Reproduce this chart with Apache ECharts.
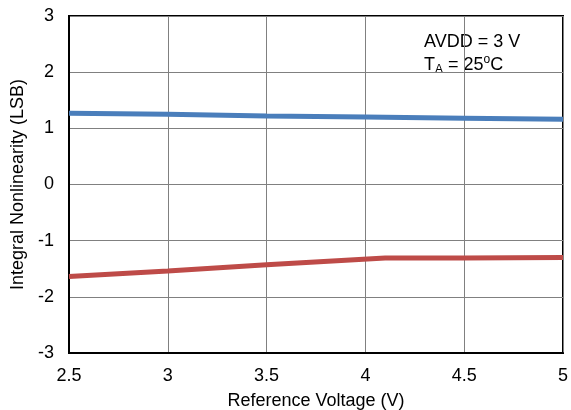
<!DOCTYPE html>
<html><head><meta charset="utf-8">
<script src="https://cdn.jsdelivr.net/npm/echarts@6/dist/echarts.min.js"></script>
<style>html,body{margin:0;padding:0;background:#fff}#c{width:571px;height:410px}</style>
</head><body><div id="c"></div>
<script>
var blueX = [2.5, 3, 3.5, 4, 4.5, 5];
var blueY = [1.27, 1.25, 1.22, 1.20, 1.18, 1.16];
var redX = [2.5, 3, 3.5, 4.1, 4.5, 5];
var redY = [-1.64, -1.54, -1.43, -1.31, -1.31, -1.30];
var xTicks = [2.5, 3, 3.5, 4, 4.5, 5];
var yTicks = [-3, -2, -1, 0, 1, 2, 3];
function pairs(xs, ys){ return xs.map(function(x,i){ return [x, ys[i]]; }); }
var chart = echarts.init(document.getElementById('c'));
var font = 'Liberation Sans, Arial, sans-serif';
chart.setOption({
  animation: false,
  grid: {left: 69, right: 8, top: 16, bottom: 57, show: true, borderColor: '#000', borderWidth: 2,
    outerBoundsMode: 'none', containLabel: false},
  xAxis: {
    type: 'value', min: 2.5, max: 5, interval: 0.5,
    name: 'Reference Voltage (V)', nameLocation: 'middle', nameGap: 39,
    nameTextStyle: {fontFamily: font, fontSize: 18, color: '#000'},
    axisLine: {show: true, onZero: false, lineStyle: {color: '#000', width: 2}},
    axisTick: {show: false},
    axisLabel: {fontFamily: font, fontSize: 18, color: '#000', margin: 14,
      formatter: function(v){ return xTicks.indexOf(v) >= 0 ? String(v) : ''; }},
    splitLine: {show: true, lineStyle: {color: '#808080', width: 1}}
  },
  yAxis: {
    type: 'value', min: -3, max: 3, interval: 1,
    name: 'Integral Nonlinearity (LSB)', nameLocation: 'middle', nameGap: 41,
    nameTextStyle: {fontFamily: font, fontSize: 18, color: '#000'},
    axisLine: {show: true, onZero: false, lineStyle: {color: '#000', width: 2}},
    axisTick: {show: false},
    axisLabel: {fontFamily: font, fontSize: 18, color: '#000', margin: 15,
      formatter: function(v){ return yTicks.indexOf(v) >= 0 ? String(v) : ''; }},
    splitLine: {show: true, lineStyle: {color: '#808080', width: 1}}
  },
  series: [
    {type: 'line', data: pairs(blueX, blueY), symbol: 'none',
      lineStyle: {color: '#4a7ebb', width: 5}},
    {type: 'line', data: pairs(redX, redY), symbol: 'none',
      lineStyle: {color: '#be4b48', width: 5}}
  ],
  graphic: [
    {type: 'text', left: 424, top: 33, style: {text: 'AVDD = 3 V', fontFamily: font, fontSize: 18, fill: '#000'}},
    {type: 'text', left: 424, top: 54, style: {
      text: '{n|T}{s|A}{n| = 25}{p|o}{n|C}',
      fontFamily: font, fill: '#000',
      rich: {
        n: {fontFamily: font, fontSize: 18, fill: '#000', verticalAlign: 'middle', lineHeight: 22},
        s: {fontFamily: font, fontSize: 12, fill: '#000', verticalAlign: 'bottom', lineHeight: 12},
        p: {fontFamily: font, fontSize: 12, fill: '#000', verticalAlign: 'top', lineHeight: 16}
      }
    }}
  ]
});
</script></body></html>
